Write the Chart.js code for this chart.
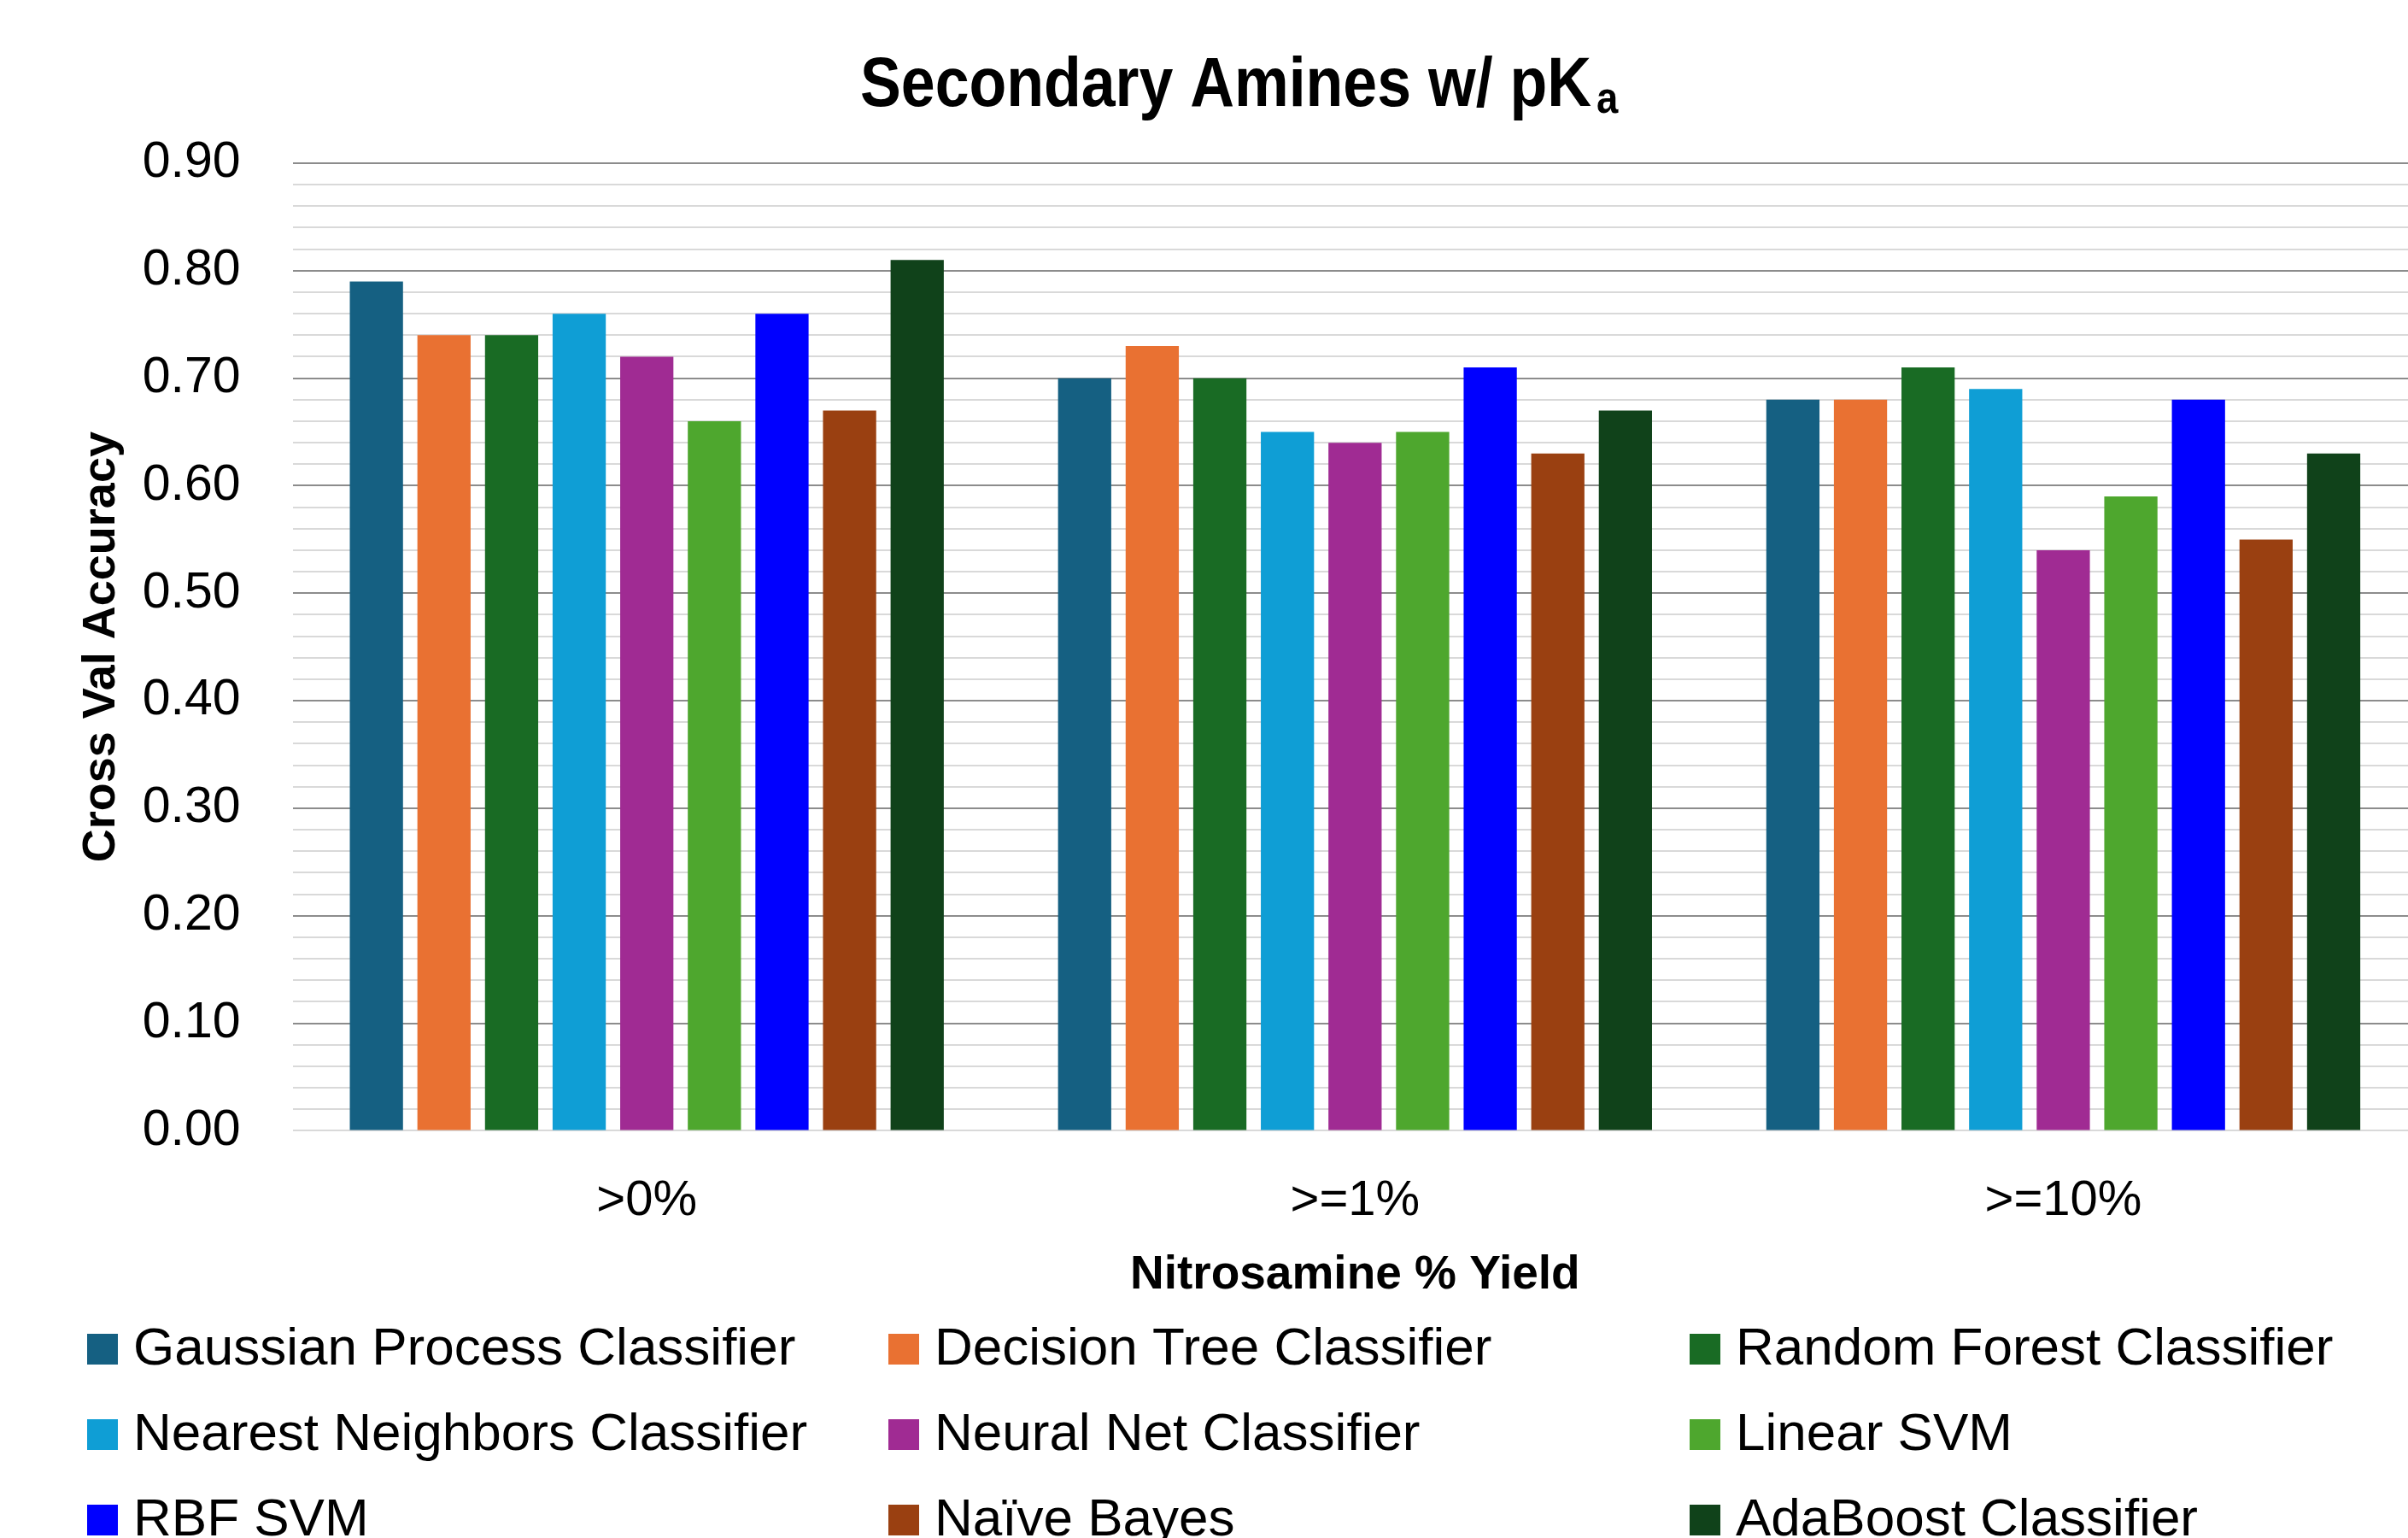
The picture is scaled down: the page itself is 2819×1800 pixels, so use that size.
<!DOCTYPE html>
<html>
<head>
<meta charset="utf-8">
<script src="https://cdn.jsdelivr.net/npm/chart.js@4.4.1/dist/chart.umd.min.js"></script>
<style>
  html, body { margin: 0; padding: 0; background: #fff; overflow: hidden; }
  /* plot area runs a little past the right edge, as in the reference */
  #wrap { width: 2830px; height: 1800px; position: relative; }
</style>
</head>
<body>
<div id="wrap"><canvas id="chart"></canvas></div>
<script>
// ── Data ──
const categories = ['>0%', '>=1%', '>=10%'];

const seriesNames = [
    'Gaussian Process Classifier', 'Decision Tree Classifier', 'Random Forest Classifier',
    'Nearest Neighbors Classifier', 'Neural Net Classifier', 'Linear SVM',
    'RBF SVM', 'Naïve Bayes', 'AdaBoost Classifier'
];
const seriesColors = [
    '#156082', '#E97132', '#196B24',
    '#0F9ED5', '#A02B93', '#4EA72E',
    '#0000FF', '#9A4011', '#10421A'
];

const gaussianProcess  = [0.79, 0.70, 0.68];
const decisionTree     = [0.74, 0.73, 0.68];
const randomForest     = [0.74, 0.70, 0.71];
const nearestNeighbors = [0.76, 0.65, 0.69];
const neuralNet        = [0.72, 0.64, 0.54];
const linearSvm        = [0.66, 0.65, 0.59];
const rbfSvm           = [0.76, 0.71, 0.68];
const naiveBayes       = [0.67, 0.63, 0.55];
const adaBoost         = [0.81, 0.67, 0.63];

const seriesValues = [
    gaussianProcess, decisionTree, randomForest,
    nearestNeighbors, neuralNet, linearSvm,
    rbfSvm, naiveBayes, adaBoost
];

const FONT = '"Liberation Sans", Arial, Helvetica, sans-serif';
Chart.defaults.font.family = FONT;
Chart.defaults.color = '#000';

// ── Title with subscript (narrowed to the reference's width) ──
const titlePlugin = {
    id: 'pkaTitle',
    afterDraw(chart) {
        const ctx = chart.ctx;
        const main = 'Secondary Amines w/ pK';
        ctx.save();
        ctx.fillStyle = '#000';
        ctx.textAlign = 'left';
        ctx.textBaseline = 'alphabetic';
        ctx.font = `bold 82px ${FONT}`;
        const w = ctx.measureText(main).width;
        const sx = 856 / w;
        ctx.translate(1007, 124);
        ctx.scale(sx, 1);
        ctx.fillText(main, 0, 0);
        ctx.font = `bold 52px ${FONT}`;
        ctx.fillText('a', w + 6 / sx, 8);
        ctx.restore();
    }
};

// ── Legend in 3 columns ──
const legendCols = [102, 1040, 1978];
const legendRows = [1579, 1679, 1779];
const legendPlugin = {
    id: 'gridLegend',
    afterDraw(chart) {
        const ctx = chart.ctx;
        ctx.save();
        ctx.font = `62px ${FONT}`;
        ctx.textAlign = 'left';
        ctx.textBaseline = 'middle';
        chart.data.datasets.forEach((ds, i) => {
            const x = legendCols[i % 3];
            const y = legendRows[Math.floor(i / 3)];
            ctx.fillStyle = ds.backgroundColor;
            ctx.fillRect(x, y - 18, 36, 36);
            ctx.fillStyle = '#000';
            ctx.fillText(ds.label, x + 54, y + 1);
        });
        ctx.restore();
    }
};

const isMajor = v => Math.round(v * 100) % 10 === 0;

new Chart(document.getElementById('chart'), {
    type: 'bar',
    data: {
        labels: categories,
        datasets: seriesNames.map((name, i) => ({
            label: name,
            data: seriesValues[i],
            backgroundColor: seriesColors[i],
            borderWidth: 0,
            barPercentage: 0.787,
            categoryPercentage: 0.859,
        }))
    },
    options: {
        responsive: true,
        maintainAspectRatio: false,
        devicePixelRatio: 1,
        animation: false,
        layout: { padding: { top: 191, left: 0, right: 0, bottom: 274 } },
        plugins: {
            legend: { display: false },
            title: { display: false },
            tooltip: { enabled: false }
        },
        scales: {
            x: {
                grid: { display: false, drawTicks: false },
                border: { display: false },
                ticks: { font: { size: 58 }, color: '#000', padding: 48 },
                title: {
                    display: true,
                    text: 'Nitrosamine % Yield',
                    font: { size: 55, weight: 'bold' },
                    color: '#000',
                    padding: { top: -29, bottom: 0 }
                }
            },
            y: {
                min: 0,
                max: 0.9,
                border: { display: false },
                grid: {
                    drawTicks: false,
                    lineWidth: 2,
                    color: c => (c.tick && c.tick.value > 0.001 && isMajor(c.tick.value)) ? '#8c8c8c' : '#d9d9d9'
                },
                ticks: {
                    stepSize: 0.02,
                    autoSkip: false,
                    font: { size: 59 },
                    color: '#000',
                    padding: 61,
                    callback: v => isMajor(v) ? Number(v).toFixed(2) : ''
                },
                title: {
                    display: true,
                    text: 'Cross Val Accuracy',
                    font: { size: 54, weight: 'bold' },
                    color: '#000',
                    padding: { top: 87, bottom: -46 }
                }
            }
        }
    },
    plugins: [titlePlugin, legendPlugin]
});
</script>
</body>
</html>
